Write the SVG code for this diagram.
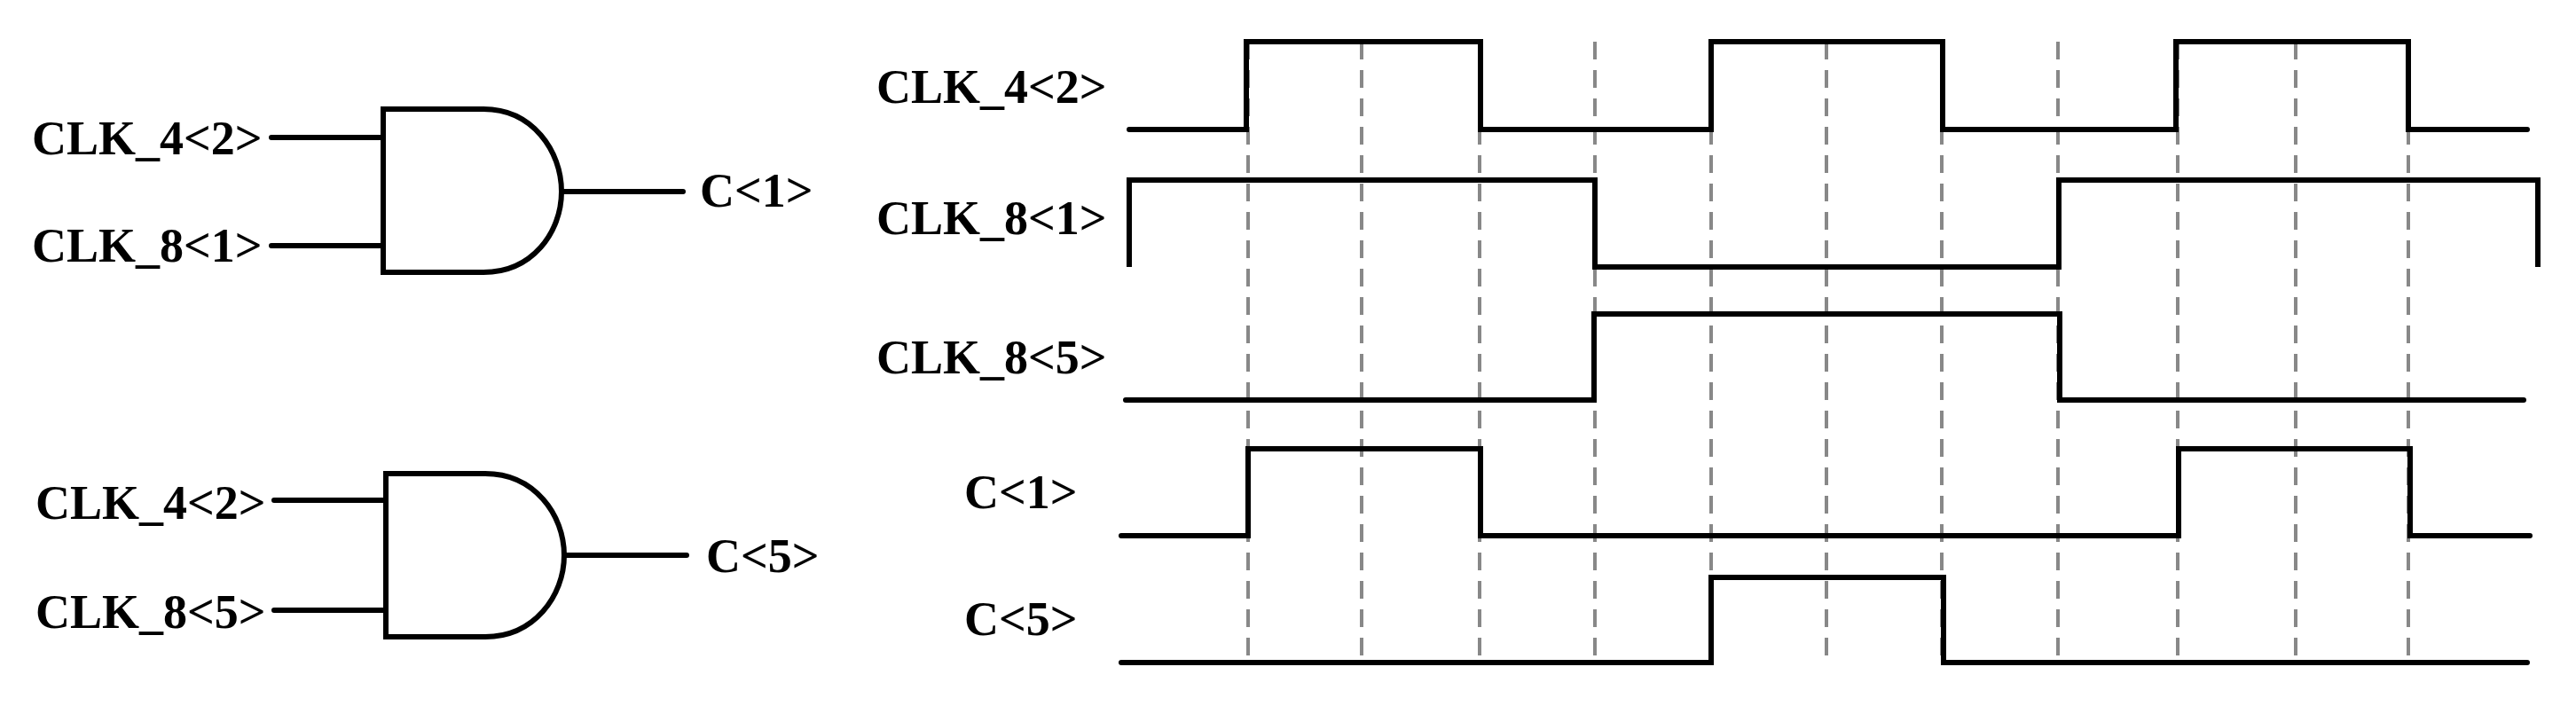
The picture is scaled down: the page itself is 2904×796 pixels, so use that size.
<svg xmlns="http://www.w3.org/2000/svg" width="2904" height="796" viewBox="0 0 2904 796">
<style>
text{font-family:"Liberation Serif","Times New Roman",serif;font-weight:bold;font-size:54px;fill:#000}
.w{fill:none;stroke:#000;stroke-width:6}
.d{fill:none;stroke:#888;stroke-width:4}
.d{stroke-dasharray:20 12}
</style>
<rect width="2904" height="796" fill="#fff"/>
<g id="gate1">
<path class="w" d="M432,123 H545 C600,123 633,170 633,216 C633,262 600,307 545,307 H432 Z"/>
<text x="36" y="174">CLK_4&lt;2&gt;</text>
<text x="36" y="295">CLK_8&lt;1&gt;</text>
<text x="789" y="233">C&lt;1&gt;</text>
</g>
<g id="gate2">
<path class="w" d="M435,534 H547 C602,534 636,580 636,626 C636,672 602,718 547,718 H435 Z"/>
<text x="40" y="585">CLK_4&lt;2&gt;</text>
<text x="40" y="708">CLK_8&lt;5&gt;</text>
<text x="796" y="645">C&lt;5&gt;</text>
</g>
<g id="connectors">
<path class="w" d="M306,155 H432 M306,277 H432 M633,216 H770 M309,564 H435 M309,688 H435 M636,626 H774" stroke-linecap="round"/>
</g>
<g id="grid">
<path class="d" d="M1407,47V749 M1535,47V749 M1668,47V749 M1798,47V749 M1929,47V749 M2059,47V749 M2189,47V749 M2320,47V749 M2455,47V749 M2588,47V749 M2715,47V749"/>
</g>
<g id="waves">
<text x="988" y="116">CLK_4&lt;2&gt;</text>
<text x="988" y="264">CLK_8&lt;1&gt;</text>
<text x="988" y="421">CLK_8&lt;5&gt;</text>
<text x="1087" y="573">C&lt;1&gt;</text>
<text x="1087" y="716">C&lt;5&gt;</text>
<path class="w" stroke-linecap="round" d="M1273,146 H1405 V47 H1669 V146 H1929 V47 H2190 V146 H2453 V47 H2715 V146 H2849"/>
<path class="w" d="M1273,301 V203 H1798 V301 H2321 V203 H2861 V301"/>
<path class="w" stroke-linecap="round" d="M1269,451 H1797 V354 H2322 V451 H2845"/>
<path class="w" stroke-linecap="round" d="M1264,604 H1407 V506 H1669 V604 H2456 V506 H2717 V604 H2852"/>
<path class="w" stroke-linecap="round" d="M1264,747 H1929 V651 H2191 V747 H2849"/>
</g>
</svg>
